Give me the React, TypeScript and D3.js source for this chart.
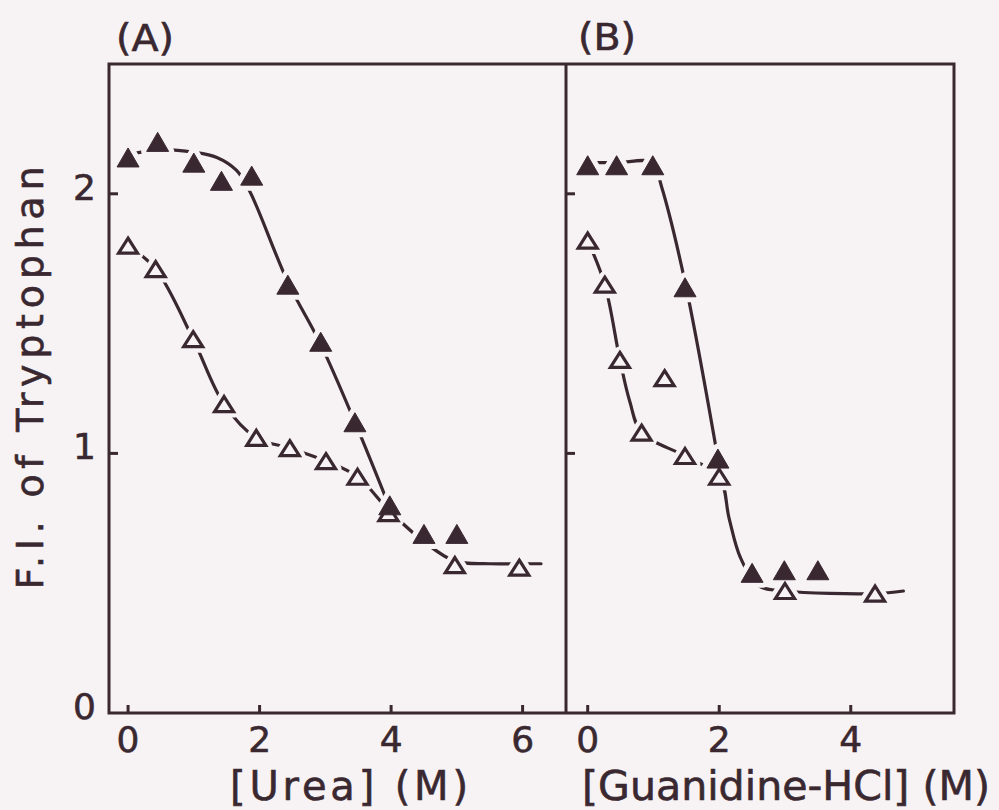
import React from 'react';
import * as d3 from 'd3';

// ---------- data ----------
const yTicks = [0, 1, 2];
const ureaTicks = [0, 2, 4, 6];
const gdnTicks = [0, 2, 4];

// Panel A: urea, filled triangles
const ureaFilledX = [0, 0.45, 1.0, 1.42, 1.88, 2.43, 2.93, 3.45, 3.98, 4.5, 5.0];
const ureaFilledY = [2.14, 2.2, 2.12, 2.05, 2.07, 1.65, 1.43, 1.12, 0.8, 0.69, 0.69];
// Panel A: urea, open triangles
const ureaOpenX = [0, 0.42, 0.99, 1.46, 1.95, 2.46, 3.01, 3.49, 3.96, 4.97, 5.95];
const ureaOpenY = [1.8, 1.71, 1.44, 1.19, 1.06, 1.02, 0.97, 0.91, 0.77, 0.57, 0.56];
// Panel A: hand-drawn curves (knots)
const ureaFilledCurveX = [0, 0.5, 1.0, 1.35, 1.65, 1.85, 2.43, 2.93, 3.45, 3.98];
const ureaFilledCurveY = [2.15, 2.17, 2.16, 2.14, 2.09, 2.01, 1.66, 1.42, 1.12, 0.79];
const ureaOpenCurveX = [0, 0.42, 0.99, 1.46, 1.95, 2.46, 3.01, 3.49, 3.97, 4.5, 4.97, 5.5, 5.95, 6.28];
const ureaOpenCurveY = [1.8, 1.71, 1.44, 1.19, 1.06, 1.02, 0.97, 0.91, 0.78, 0.66, 0.585, 0.575, 0.575, 0.575];

// Panel B: guanidine-HCl, filled triangles
const gdnFilledX = [0, 0.44, 0.99, 1.48, 1.98, 2.5, 2.99, 3.5];
const gdnFilledY = [2.11, 2.11, 2.11, 1.64, 0.98, 0.54, 0.55, 0.55];
// Panel B: guanidine-HCl, open triangles
const gdnOpenX = [0, 0.26, 0.49, 0.82, 1.17, 1.48, 2.0, 3.0, 4.37];
const gdnOpenY = [1.82, 1.65, 1.36, 1.08, 1.29, 0.99, 0.91, 0.47, 0.46];
// Panel B: hand-drawn curves
const gdnFilledCurveX = [0, 0.44, 0.99, 1.12, 1.48, 1.98];
const gdnFilledCurveY = [2.12, 2.12, 2.12, 2.03, 1.66, 0.98];
const gdnOpenCurveX = [0, 0.26, 0.49, 0.64, 0.82, 1.48, 2.0, 2.15, 2.32, 2.6, 3.0, 4.37, 4.8];
const gdnOpenCurveY = [1.82, 1.65, 1.36, 1.2, 1.08, 0.99, 0.91, 0.75, 0.6, 0.49, 0.47, 0.46, 0.47];

// ---------- style ----------
const BG = '#f7f2f3';
const INK = '#3a2831';
const FONT = 'DejaVu Sans, sans-serif';

const W = 999;
const H = 810;
const top = 64;
const bottom = 713;
const leftA = 109;
const divider = 566;
const rightB = 954;

const y = d3.scaleLinear().domain([0, 2.5]).range([bottom, top]);
const xA = d3.scaleLinear().domain([-0.29, 6.66]).range([leftA, divider]);
const xB = d3.scaleLinear().domain([-0.33, 5.57]).range([divider, rightB]);

function tri(cx: number, cy: number, w: number, h: number) {
  return `M${cx},${cy - h / 2}L${cx + w / 2},${cy + h / 2}L${cx - w / 2},${cy + h / 2}Z`;
}

type Pt = [number, number];
const zip = (xs: number[], ys: number[]): Pt[] => xs.map((v, i) => [v, ys[i]]);

const textStyle = { fontFamily: FONT, fill: INK, stroke: INK, strokeWidth: 0.6 } as const;

function Panel({ x, ticks, filled, open, filledCurve, openCurve }: {
  x: d3.ScaleLinear<number, number>;
  ticks: number[];
  filled: Pt[];
  open: Pt[];
  filledCurve: Pt[];
  openCurve: Pt[];
}) {
  const line = d3
    .line<Pt>()
    .x((d) => x(d[0]))
    .y((d) => y(d[1]))
    .curve(d3.curveCatmullRom.alpha(0.5));
  const FW = 22, FH = 19, OW = 19, OH = 15;
  return (
    <g>
      {ticks.map((t) => (
        <g key={'xt' + t}>
          <line x1={x(t)} x2={x(t)} y1={bottom} y2={bottom - 8} stroke={INK} strokeWidth={3} />
          <text x={x(t)} y={752} textAnchor="middle" fontSize={36} style={textStyle}>
            {t}
          </text>
        </g>
      ))}
      {yTicks.filter((t) => t > 0).map((t) => (
        <line key={'yt' + t} x1={x.range()[0]} x2={x.range()[0] + 9} y1={y(t)} y2={y(t)} stroke={INK} strokeWidth={3} />
      ))}
      <path d={line(filledCurve) || ''} fill="none" stroke={INK} strokeWidth={3.2} strokeLinecap="round" />
      <path d={line(openCurve) || ''} fill="none" stroke={INK} strokeWidth={3.2} strokeLinecap="round" />
      {filled.map((d, i) => (
        <path key={'hf' + i} d={tri(x(d[0]), y(d[1]), FW, FH)} fill={BG} stroke={BG} strokeWidth={11} strokeLinejoin="round" />
      ))}
      {open.map((d, i) => (
        <path key={'ho' + i} d={tri(x(d[0]), y(d[1]), OW, OH)} fill={BG} stroke={BG} strokeWidth={12} strokeLinejoin="round" />
      ))}
      {open.map((d, i) => (
        <path key={'o' + i} d={tri(x(d[0]), y(d[1]), OW, OH)} fill={BG} stroke={INK} strokeWidth={3.2} strokeLinejoin="miter" />
      ))}
      {filled.map((d, i) => (
        <path key={'f' + i} d={tri(x(d[0]), y(d[1]), FW, FH)} fill={INK} stroke={INK} strokeWidth={1} />
      ))}
    </g>
  );
}

export default function App() {
  return (
    <svg
      width={W}
      height={H}
      viewBox={`0 0 ${W} ${H}`}
      style={{ position: 'absolute', left: 0, top: 0, background: BG }}
    >
      <rect x={0} y={0} width={W} height={H} fill={BG} />
      <Panel
        x={xA}
        ticks={ureaTicks}
        filled={zip(ureaFilledX, ureaFilledY)}
        open={zip(ureaOpenX, ureaOpenY)}
        filledCurve={zip(ureaFilledCurveX, ureaFilledCurveY)}
        openCurve={zip(ureaOpenCurveX, ureaOpenCurveY)}
      />
      <Panel
        x={xB}
        ticks={gdnTicks}
        filled={zip(gdnFilledX, gdnFilledY)}
        open={zip(gdnOpenX, gdnOpenY)}
        filledCurve={zip(gdnFilledCurveX, gdnFilledCurveY)}
        openCurve={zip(gdnOpenCurveX, gdnOpenCurveY)}
      />
      <rect x={leftA} y={top} width={rightB - leftA} height={bottom - top} fill="none" stroke={INK} strokeWidth={3} />
      <line x1={divider} x2={divider} y1={top} y2={bottom} stroke={INK} strokeWidth={3} />
      {yTicks.map((t) => (
        <text key={'yl' + t} x={96} y={y(t) - 7} dy="0.36em" textAnchor="end" fontSize={36} style={textStyle}>
          {t}
        </text>
      ))}
      <text x={145} y={51} textAnchor="middle" fontSize={37} style={textStyle} textLength={58} lengthAdjust="spacingAndGlyphs">(A)</text>
      <text x={607} y={50} textAnchor="middle" fontSize={37} style={textStyle} textLength={58} lengthAdjust="spacingAndGlyphs">(B)</text>
      <text x={349} y={800} textAnchor="middle" fontSize={40} style={textStyle} textLength={238} lengthAdjust="spacing">[Urea] (M)</text>
      <text x={786} y={800} textAnchor="middle" fontSize={40} style={textStyle} textLength={408} lengthAdjust="spacingAndGlyphs">[Guanidine-HCl] (M)</text>
      <text
        transform={`translate(43,378) rotate(-90)`}
        textAnchor="middle"
        fontSize={38}
        style={textStyle}
        textLength={423}
        lengthAdjust="spacing"
      >
        F.I. of Tryptophan
      </text>
    </svg>
  );
}
